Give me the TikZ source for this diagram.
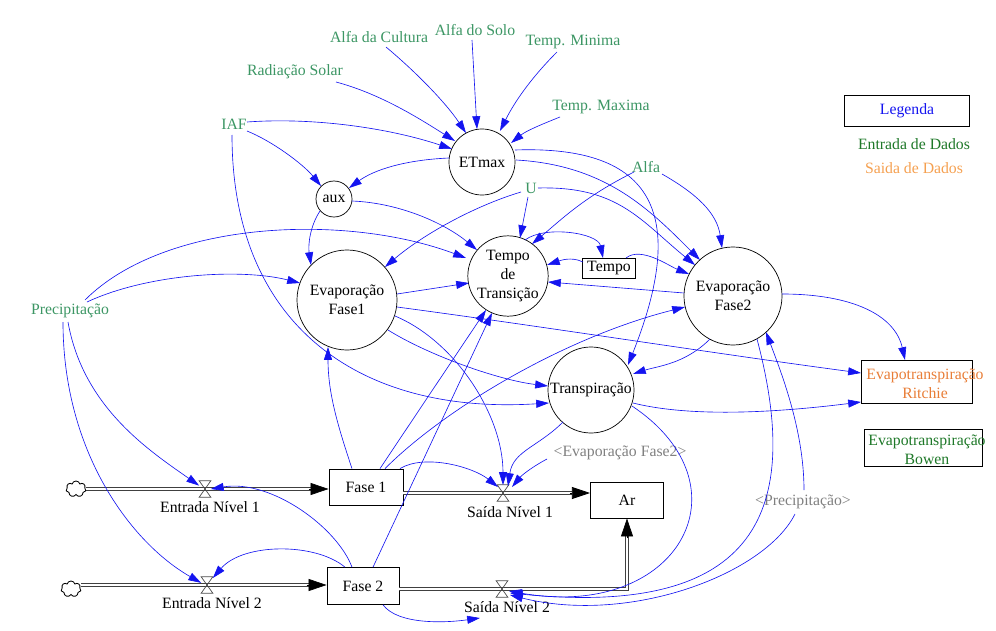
\documentclass[tikz,border=0pt]{standalone}
\usepackage{fontspec}
\setmainfont{Liberation Serif}
\usetikzlibrary{arrows.meta,calc,shapes.symbols}
\definecolor{cblue}{RGB}{20,20,240}
\definecolor{lgreen}{RGB}{60,150,100}
\definecolor{dgreen}{RGB}{30,120,40}
\definecolor{orng}{RGB}{232,125,55}
\definecolor{lorng}{RGB}{245,160,80}
\definecolor{lgray}{RGB}{128,128,128}
\begin{document}
\begin{tikzpicture}[x=0.025cm,y=-0.025cm,
  every node/.style={font=\fontsize{11.2}{13.5}\selectfont, inner sep=0pt},
  var/.style={circle,draw,line width=0.5pt,align=center},
  box/.style={rectangle,draw,line width=0.6pt,align=center},
  inp/.style={text=lgreen},
  shd/.style={text=lgray},
  conn/.style={draw=cblue,line width=0.45pt,-{Triangle[length=0.32cm,width=0.2cm]}},
  pipe/.style={draw=black!75,double=white,double distance=1.5pt,line width=0.55pt},
  pipetip/.style={draw=black,line width=0.5pt,-{Triangle[length=0.45cm,width=0.3cm]}},
  valvebox/.style={minimum width=0.28cm,minimum height=0.4cm},
  valveline/.style={draw=black!70,line width=0.5pt},
  cld/.style={cloud,cloud puffs=7,draw,line width=0.6pt,minimum width=0.5cm,minimum height=0.4cm}]
\useasboundingbox (0,0) rectangle (996,631);

% auxiliaries
\node[var,minimum size=1.65cm] (etmax) at (482,162) {ETmax};
\node[var,minimum size=0.9cm] (aux) at (334,199) {aux};
\node[var,minimum size=2.5cm] (evf1) at (347,300) {Evaporação\\Fase1};
\node[var,minimum size=2.0cm] (tt) at (508,276) {Tempo\\de\\Transição};
\node[var,minimum size=2.45cm] (evf2) at (733,296) {Evaporação\\Fase2};
\node[var,minimum size=2.15cm] (transp) at (591,390) {Transpiração};

% boxes
\node[box,minimum width=1.85cm,minimum height=0.9cm] (fase1) at (366,487) {Fase 1};
\node[box,minimum width=1.8cm,minimum height=0.92cm] (fase2) at (363,586) {Fase 2};
\node[box,minimum width=1.83cm,minimum height=0.9cm] (ar) at (627,500) {Ar};
\node[box,minimum width=1.33cm,minimum height=0.5cm] (tempo) at (609,268) {Tempo};
\node[box,minimum width=2.78cm,minimum height=1.08cm] (ritchie) at (917,382) {};
\node[align=center,text=orng] (ritchieT) at (925,384) {Evapotranspiração\\Ritchie};
\node[box,minimum width=2.95cm,minimum height=0.93cm] (bowen) at (923,448) {};
\node[align=center,text=dgreen] (bowenT) at (927,450) {Evapotranspiração\\Bowen};
\node[box,minimum width=3.13cm,minimum height=0.78cm,text=cblue] (legenda) at (907,111) {Legenda};
\node[text=dgreen] (entd) at (914,144) {Entrada de Dados};
\node[text=lorng] (said) at (914,168) {Saida de Dados};

% inputs
\node[inp] (alfaC) at (379,37) {Alfa da Cultura};
\node[inp] (alfaS) at (475,30) {Alfa do Solo};
\node[inp] (tmin) at (573,42) {Temp. Minima};
\node[inp] (rad) at (295,72) {Radiação Solar};
\node[inp] (tmax) at (601,107) {Temp. Maxima};
\node[inp] (iaf) at (234,124) {IAF};
\node[inp] (alfa) at (646,167) {Alfa};
\node[inp] (U) at (531,188) {U};
\node[inp] (prec) at (70,311) {Precipitação};
\node[shd] (gevf2) at (620,453) {<Evaporação Fase2>};
\node[shd] (gprec) at (803,502) {<Precipitação>};

% valves, clouds, labels
\node[valvebox] (v1) at (205,489) {};
\node[valvebox] (v2) at (207,585) {};
\node[valvebox] (s1) at (503,493) {};
\node[valvebox] (s2) at (502,589) {};
\node (v1l) at (210,507) {Entrada Nível 1};
\node (v2l) at (212,603) {Entrada Nível 2};
\node (s1l) at (510,512) {Saída Nível 1};
\node (s2l) at (507,607) {Saída Nível 2};
\node[cld] (c1) at (76,489) {};
\node[cld] (c2) at (71,589) {};

% pipes
\draw[pipe] (v1 -| c1.east) -- ($(v1 -| fase1.west)+(-18,0)$);
\draw[pipetip] ($(v1 -| fase1.west)+(-20,0)$) -- (v1 -| fase1.west);
\draw[pipe] (s1 -| fase1.east) -- ($(s1 -| ar.west)+(-18,0)$);
\draw[pipetip] ($(s1 -| ar.west)+(-20,0)$) -- (s1 -| ar.west);
\draw[pipe] (v2 -| c2.east) -- ($(v2 -| fase2.west)+(-18,0)$);
\draw[pipetip] ($(v2 -| fase2.west)+(-20,0)$) -- (v2 -| fase2.west);
\draw[pipe] (s2 -| fase2.east) -- (s2 -| ar.south) -- ($(ar.south)+(0,18)$);
\draw[pipetip] ($(ar.south)+(0,20)$) -- (ar.south);
\foreach \v in {v1,v2,s1,s2}
  \draw[valveline] (\v.north west) -- (\v.north east) -- (\v.south west) -- (\v.south east) -- cycle;

% ETmax inputs
\draw[conn] ($(rad)+(41,10)$) .. controls +(45,12) and +(-35,-22) .. ($(etmax)+(-27,-21)$);
\draw[conn] ($(alfaC)+(7,10)$) .. controls +(30,25) and +(-20,-30) .. ($(etmax)+(-16,-29)$);
\draw[conn] ($(alfaS)+(-3,10)$) -- ($(etmax)+(-5,-33)$);
\draw[conn] ($(tmin)+(-16,10)$) .. controls +(-25,25) and +(15,-30) .. ($(etmax)+(18,-31)$);
\draw[conn] ($(tmax)+(-41,10)$) .. controls +(-20,8) and +(15,-12) .. ($(etmax)+(29,-19)$);
\draw[conn] ($(iaf)+(13,-2)$) .. controls +(70,-5) and +(-60,-20) .. ($(etmax)+(-30,-13)$);

% aux
\draw[conn] ($(iaf)+(13,7)$) .. controls +(25,10) and +(-18,-22) .. ($(aux)+(-13,-13)$);
\draw[conn] ($(etmax)+(-33,-4)$) .. controls +(-45,2) and +(25,-18) .. ($(aux)+(15,-11)$);
\draw[conn] ($(aux)+(18,2)$) .. controls +(50,2) and +(-30,-25) .. ($(tt)+(-31,-26)$);
\draw[conn] ($(aux)+(-14,12)$) .. controls +(-10,15) and +(-3,-20) .. ($(evf1)+(-36,-35)$);

% IAF to Transpiracao
\draw[conn] ($(iaf)+(-2,11)$) .. controls +(0,190) and +(-190,12) .. ($(transp)+(-42,13)$);

% Evaporacao Fase1 outputs
\draw[conn] ($(evf1)+(50,-6)$) -- ($(tt)+(-39,7)$);
\draw[conn] ($(evf1)+(50,7)$) .. controls +(150,20) and +(-150,-20) .. ($(ritchie.west)+(0,-9)$);
\draw[conn] ($(evf1)+(41,30)$) .. controls +(40,25) and +(-50,-6) .. ($(transp)+(-43,-4)$);
\draw[conn] ($(evf1)+(48,16)$) .. controls +(60,25) and +(0,-70) .. ($(s1)+(0,-8)$);

% Precipitacao
\draw[conn] ($(prec)+(15,-11)$) .. controls +(80,-80) and +(-120,-45) .. ($(tt)+(-42,-18)$);
\draw[conn] ($(prec)+(17,-9)$) .. controls +(60,-28) and +(-60,-15) .. ($(evf1)+(-47,-17)$);
\draw[conn] ($(prec)+(-2,11)$) .. controls +(15,85) and +(-50,-35) .. (v1.150);
\draw[conn] ($(prec)+(-7,11)$) .. controls +(0,130) and +(-70,-40) .. (v2.160);

% U
\draw[conn] ($(U)+(-10,4)$) .. controls +(-50,15) and +(35,-30) .. ($(evf1)+(38,-33)$);
\draw[conn] ($(U)+(-3,9)$) -- ($(tt)+(12,-38)$);
\draw[conn] ($(U)+(7,0)$) .. controls +(80,-2) and +(-55,-45) .. ($(evf2)+(-38,-31)$);

% ETmax outputs
\draw[conn] ($(etmax)+(34,-2)$) .. controls +(90,5) and +(-50,-50) .. ($(evf2)+(-33,-36)$);
\draw[conn] ($(etmax)+(33,-12)$) .. controls +(140,-5) and +(60,-150) .. ($(transp)+(37,-25)$);

% Tempo
\draw[conn] ($(tempo)+(17,-10)$) .. controls +(15,-12) and +(-20,-8) .. ($(evf2)+(-44,-22)$);
\draw[conn] ($(tt)+(17,-36)$) .. controls +(20,-15) and +(-5,-25) .. ($(tempo)+(-6,-10)$);
\draw[conn] ($(tempo)+(-26,-6)$) .. controls +(-12,-6) and +(12,-4) .. ($(tt)+(39,-11)$);

% Alfa
\draw[conn] ($(alfa)+(16,7)$) .. controls +(35,20) and +(-5,-35) .. ($(evf2)+(-11,-48)$);
\draw[conn] ($(alfa)+(-12,5)$) .. controls +(-50,25) and +(30,-25) .. ($(tt)+(24,-32)$);

% Evaporacao Fase2 outputs
\draw[conn] ($(evf2)+(-49,-3)$) -- ($(tt)+(40,6)$);
\draw[conn] ($(evf2)+(49,-2)$) .. controls +(70,0) and +(-10,-45) .. ($(ritchie.north)+(-12,0)$);
\draw[conn] ($(evf2)+(-23,43)$) .. controls +(-25,25) and +(25,-8) .. ($(transp)+(42,-16)$);
\draw[conn] ($(evf2)+(24,43)$) .. controls +(45,170) and +(250,25) .. ($(s2)+(8,4)$);

% Transpiracao outputs
\draw[conn] ($(transp)+(42,13)$) .. controls +(60,15) and +(-80,10) .. ($(ritchie.west)+(0,20)$);
\draw[conn] ($(transp)+(41,16)$) .. controls +(120,80) and +(170,30) .. ($(s2)+(7,2)$);
\draw[conn] ($(transp)+(-28,32)$) .. controls +(-25,25) and +(5,-35) .. ($(s1)+(5,-7)$);

% Fase 1 outputs
\draw[conn] ($(fase1.north)+(14,0)$) -- ($(tt)+(-22,34)$);
\draw[conn] ($(fase1.north)+(19,0)$) .. controls +(60,-60) and +(-120,30) .. ($(evf2)+(-48,11)$);
\draw[conn] ($(fase1.north)+(-14,0)$) .. controls +(-15,-45) and +(0,45) .. ($(evf1)+(-19,47)$);
\draw[conn] ($(fase1.north)+(34,0)$) .. controls +(25,-15) and +(-25,-20) .. ($(s1)+(-5,-6)$);

% Fase 2 outputs
\draw[conn] ($(fase2.north)+(10,0)$) -- ($(tt)+(-16,37)$);
\draw[conn] ($(fase2.north)+(-11,0)$) .. controls +(-15,-40) and +(60,-10) .. (v1.east);
\draw[conn] ($(fase2.north)+(-18,0)$) .. controls +(-30,-25) and +(30,-35) .. (v2.50);
\draw[conn] ($(fase2.south)+(20,0)$) .. controls +(15,20) and +(-35,5) .. ($(s2l)+(-27,11)$);

% shadow variables
\draw[conn] ($(gevf2)+(-73,6)$) .. controls +(-15,8) and +(10,-12) .. ($(s1)+(9,-6)$);
\draw[conn] ($(gprec)+(1,-12)$) .. controls +(0,-60) and +(15,40) .. ($(evf2)+(33,36)$);
\draw[conn] ($(gprec)+(-8,12)$) .. controls +(-30,60) and +(120,30) .. ($(s2)+(8,6)$);
\end{tikzpicture}
\end{document}
